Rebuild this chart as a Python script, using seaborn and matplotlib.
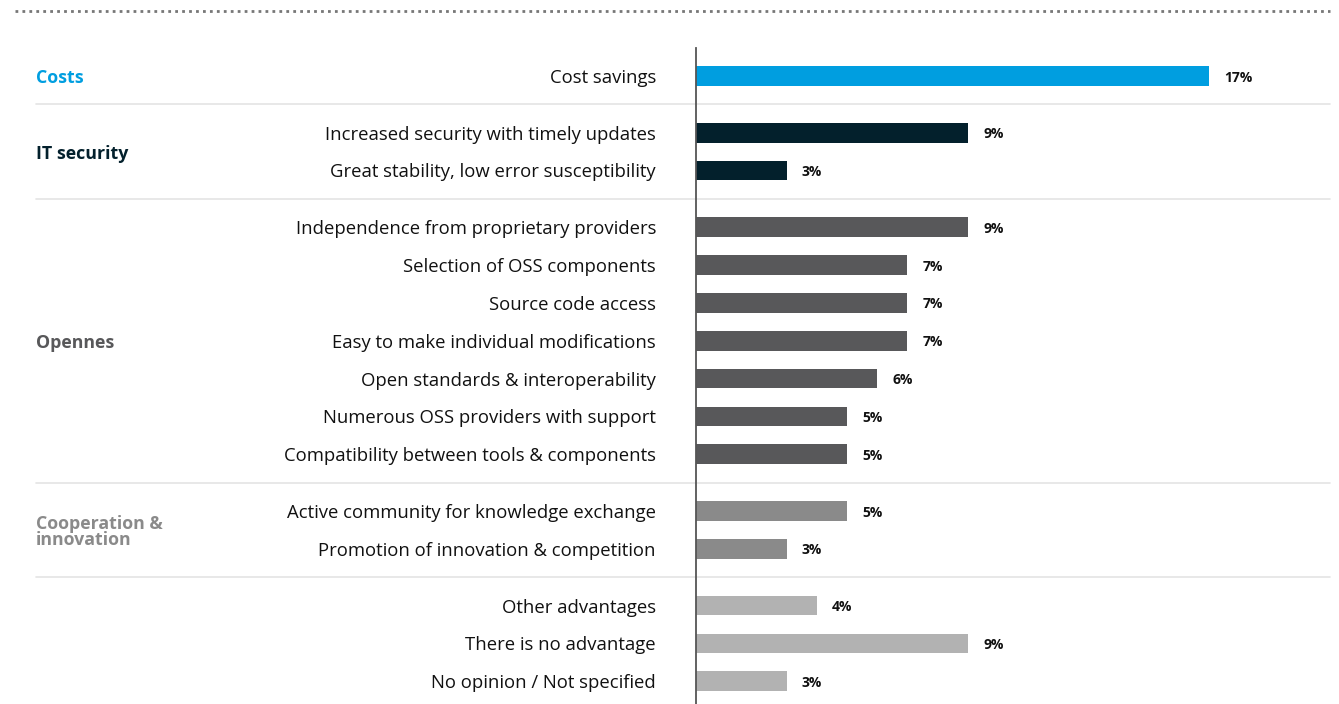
import pandas as pd
import matplotlib
matplotlib.use('Agg')
import matplotlib.pyplot as plt
import matplotlib.transforms as mtransforms
from matplotlib.lines import Line2D
import seaborn as sns

# Dados
vantagens = [
    'Cost savings',
    'Increased security with timely updates',
    'Great stability, low error susceptibility',
    'Independence from proprietary providers',
    'Selection of OSS components',
    'Source code access',
    'Easy to make individual modifications',
    'Open standards & interoperability',
    'Numerous OSS providers with support',
    'Compatibility between tools & components',
    'Active community for knowledge exchange',
    'Promotion of innovation & competition',
    'Other advantages',
    'There is no advantage',
    'No opinion / Not specified',
]
percentuais = [17, 9, 3, 9, 7, 7, 7, 6, 5, 5, 5, 3, 4, 9, 3]
grupos = ['Costs', 'IT security', 'IT security',
          'Opennes', 'Opennes', 'Opennes', 'Opennes', 'Opennes', 'Opennes', 'Opennes',
          'Cooperation &\ninnovation', 'Cooperation &\ninnovation',
          'Other', 'Other', 'Other']
nomes_grupos = ['Costs', 'IT security', 'Opennes', 'Cooperation &\ninnovation', 'Other']

cores_barras = {'Costs': '#009ee0', 'IT security': '#03202c', 'Opennes': '#58585a',
                'Cooperation &\ninnovation': '#8a8a8a', 'Other': '#b2b2b2'}
cores_grupos = {'Costs': '#009ee0', 'IT security': '#03202c', 'Opennes': '#58585a',
                'Cooperation &\ninnovation': '#8a8a8a'}

# posicoes com espaco extra entre grupos
posicoes = []
p = 0.0
for i, g in enumerate(grupos):
    if i > 0:
        p += 1.5 if g != grupos[i - 1] else 1.0
    posicoes.append(p)

df = pd.DataFrame({'vantagem': vantagens, 'pct': percentuais,
                   'grupo': grupos, 'pos': posicoes})

sns.set_theme(style='white')
plt.rcParams['font.family'] = ['Open Sans', 'DejaVu Sans']

W, H = 1339, 704
fig = plt.figure(figsize=(W / 100, H / 100), dpi=100)
ax = fig.add_axes([696 / W, 0, (1330 - 696) / W, (704 - 48) / H])

sns.barplot(data=df, x='pct', y='pos', hue='grupo', palette=cores_barras,
            orient='h', native_scale=True, dodge=False, width=0.52,
            legend=False, saturation=1, linewidth=0, ax=ax)

ax.set_xlim(0, (1330 - 696) / 30.2)
ax.set_ylim(16.6, -0.74)
ax.set_xlabel('')
ax.set_ylabel('')
ax.set_xticks([])
ax.set_yticks([])
for lado in ['top', 'right', 'bottom']:
    ax.spines[lado].set_visible(False)
ax.spines['left'].set_color('#555555')
ax.spines['left'].set_linewidth(1.3)

# rotulos das barras
for _, row in df.iterrows():
    ax.annotate(f"{row['pct']}%", (row['pct'], row['pos'] + 0.04), xytext=(11, 0),
                textcoords='offset points', va='center', ha='left',
                fontsize=10, fontweight='bold', color='#111111')

# rotulos das categorias
trans_fig_x = mtransforms.blended_transform_factory(fig.transFigure, ax.transData)
for _, row in df.iterrows():
    ax.text(656 / W, row['pos'] + 0.05, row['vantagem'], transform=trans_fig_x,
            ha='right', va='center', fontsize=13.3, color='#111111')

# rotulos dos grupos
for g in nomes_grupos:
    if g not in cores_grupos:
        continue
    pos_g = df.loc[df['grupo'] == g, 'pos']
    centro = (pos_g.min() + pos_g.max()) / 2
    ax.text(36 / W, centro + 0.05, g, transform=trans_fig_x, ha='left', va='center',
            fontsize=12.8, fontweight='bold', color=cores_grupos[g],
            linespacing=0.85)

# linhas separadoras
for i in range(1, len(grupos)):
    if grupos[i] != grupos[i - 1]:
        y_sep = (posicoes[i] + posicoes[i - 1]) / 2
        ax.add_line(Line2D([36 / W, 1330 / W], [y_sep, y_sep], transform=trans_fig_x,
                           color='#e4e4e4', linewidth=1.2, clip_on=False, zorder=0))

# linha pontilhada no topo
fig.add_artist(Line2D([15 / W, 1330 / W], [1 - 11 / H, 1 - 11 / H],
                      transform=fig.transFigure, color='#777777',
                      linewidth=2, linestyle=(0, (1, 1.5))))

plt.savefig('out.png', dpi=100)
plt.close()
